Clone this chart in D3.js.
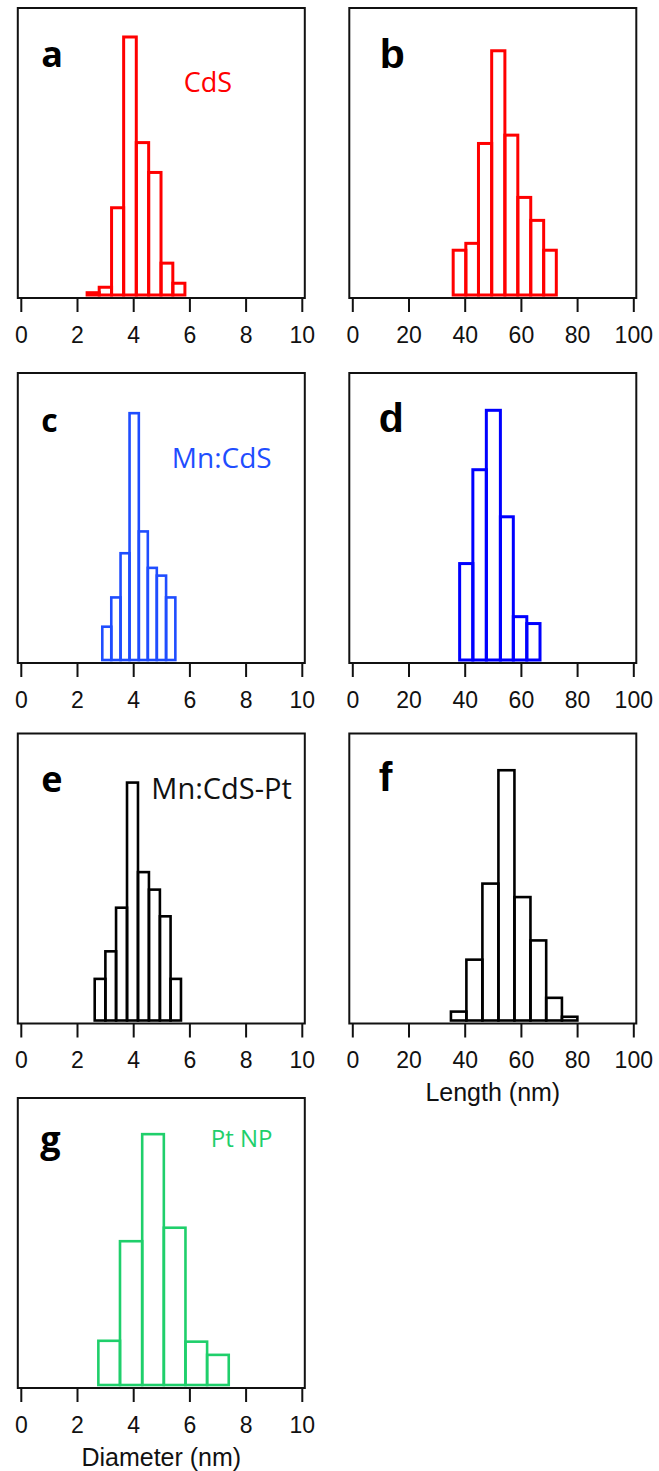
<!DOCTYPE html>
<html><head><meta charset="utf-8">
<script src="https://cdn.jsdelivr.net/npm/d3@7"></script>
<style>body{margin:0;background:#fff}svg{display:block}</style>
</head><body><svg id="chart" width="659" height="1471"></svg>
<script>
// ---- data (bin edges in nm, bar heights as relative frequency, % of axis height) ----
const diameterTicks = [0, 2, 4, 6, 8, 10];
const lengthTicks = [0, 20, 40, 60, 80, 100];

const aEdges = [2.36, 2.79, 3.23, 3.66, 4.11, 4.55, 4.99, 5.41, 5.84];
const aFreq  = [0.8, 2.7, 30.4, 89.9, 53.1, 42.7, 11.1, 4.1];

const bEdges = [35.9, 40.4, 44.9, 49.6, 54.3, 58.9, 63.5, 68.1, 72.6];
const bFreq  = [15.6, 18.0, 52.8, 85.1, 55.7, 34.0, 26.0, 15.6];

const cEdges = [2.90, 3.22, 3.55, 3.87, 4.20, 4.52, 4.84, 5.17, 5.50];
const cFreq  = [11.6, 21.8, 37.2, 86.0, 44.8, 32.1, 29.4, 21.8];

const dEdges = [38.2, 42.9, 47.7, 52.7, 57.3, 62.1, 66.8];
const dFreq  = [33.6, 66.3, 87.0, 49.9, 15.1, 12.7];

const eEdges = [2.63, 3.01, 3.39, 3.78, 4.17, 4.56, 4.95, 5.33, 5.70];
const eFreq  = [14.5, 24.1, 39.3, 82.9, 51.7, 45.6, 36.3, 14.5];

const fEdges = [35.1, 40.6, 46.3, 52.0, 57.7, 63.4, 69.0, 74.6, 80.1];
const fFreq  = [3.1, 21.2, 47.7, 87.2, 43.0, 27.9, 7.9, 1.3];

const gEdges = [2.76, 3.53, 4.32, 5.09, 5.86, 6.63, 7.40];
const gFreq  = [15.4, 50.1, 87.4, 54.8, 15.1, 10.5];

const panelLetters = ["a", "b", "c", "d", "e", "f", "g"];
const sampleNames = ["CdS", null, "Mn:CdS", null, "Mn:CdS-Pt", null, "Pt NP"];
const axisTitles = [null, null, null, null, null, "Length (nm)", "Diameter (nm)"];

// ---- layout / styles ----
const colX = [17.8, 349.3];
const rowY = [8, 373, 733.5, 1098];
const frameW = 287, frameH = 290, inset = 3;

const panels = [
  {edges: aEdges, freq: aFreq, ticks: diameterTicks, col: 0, row: 0, color: "#ff0000", sw: 3,
   letterFont: "'Open Sans'", letterSize: 36, letterDx: 23.5, letterDy: 58.7,
   name: {dx: 166, dy: 83.7, size: 27, color: "#ff0000"}},
  {edges: bEdges, freq: bFreq, ticks: lengthTicks, col: 1, row: 0, color: "#ff0000", sw: 3,
   letterFont: "'Liberation Sans', Arial", letterSize: 41, letterDx: 30.5, letterDy: 60.3},
  {edges: cEdges, freq: cFreq, ticks: diameterTicks, col: 0, row: 1, color: "#1f4dff", sw: 2.6,
   letterFont: "'Open Sans'", letterSize: 32, letterDx: 23.5, letterDy: 58.7,
   name: {dx: 154, dy: 95.3, size: 28, color: "#1f4dff"}},
  {edges: dEdges, freq: dFreq, ticks: lengthTicks, col: 1, row: 1, color: "#0000ff", sw: 3,
   letterFont: "'Liberation Sans', Arial", letterSize: 41, letterDx: 29.5, letterDy: 58.7},
  {edges: eEdges, freq: eFreq, ticks: diameterTicks, col: 0, row: 2, color: "#000000", sw: 2.6,
   letterFont: "'Open Sans'", letterSize: 36, letterDx: 23.5, letterDy: 58.2,
   name: {dx: 133.5, dy: 65.5, size: 29, color: "#111"}},
  {edges: fEdges, freq: fFreq, ticks: lengthTicks, col: 1, row: 2, color: "#000000", sw: 2.6,
   letterFont: "'Liberation Sans', Arial", letterSize: 41, letterDx: 29.5, letterDy: 57.5},
  {edges: gEdges, freq: gFreq, ticks: diameterTicks, col: 0, row: 3, color: "#1fcf6b", sw: 2.6,
   letterFont: "'Open Sans'", letterSize: 36, letterDx: 22.5, letterDy: 53.7,
   name: {dx: 193, dy: 48.7, size: 24, color: "#1fcf6b"}}
];

const svg = d3.select("#chart");
svg.append("rect").attr("width", 659).attr("height", 1471).attr("fill", "#fff");

panels.forEach((p, i) => {
  const x0 = colX[p.col], y0 = rowY[p.row];
  const g = svg.append("g").attr("transform", `translate(${x0},${y0})`);
  const xMax = p.ticks[p.ticks.length - 1];
  const x = d3.scaleLinear().domain([0, xMax]).range([inset, frameW - inset]);
  const y = d3.scaleLinear().domain([0, 100]).range([frameH - inset, 0]);

  // frame
  g.append("rect").attr("x", 0).attr("y", 0).attr("width", frameW).attr("height", frameH)
    .attr("fill", "none").attr("stroke", "#111").attr("stroke-width", 2);

  // bars
  const bins = p.freq.map((v, k) => ({x0: p.edges[k], x1: p.edges[k + 1], v}));
  g.selectAll("rect.bar").data(bins).join("rect").attr("class", "bar")
    .attr("x", d => x(d.x0)).attr("width", d => x(d.x1) - x(d.x0))
    .attr("y", d => y(d.v)).attr("height", d => y(0) - y(d.v))
    .attr("fill", "none").attr("stroke", p.color).attr("stroke-width", p.sw);

  // x axis
  const ax = g.append("g").attr("transform", `translate(0,${frameH})`)
    .call(d3.axisBottom(x).tickValues(p.ticks).tickFormat(d3.format("d")).tickSize(14).tickPadding(14.5));
  ax.select(".domain").remove();
  ax.selectAll(".tick line").attr("stroke", "#111").attr("stroke-width", 2);
  ax.selectAll(".tick text").attr("fill", "#111")
    .style("font-family", "'Liberation Sans', Arial, sans-serif").style("font-size", "23px");

  // panel letter
  g.append("text").attr("x", p.letterDx).attr("y", p.letterDy).text(panelLetters[i])
    .style("font-family", p.letterFont + ", sans-serif").style("font-weight", "bold")
    .style("font-size", p.letterSize + "px").attr("fill", "#000");

  // sample name
  if (p.name && sampleNames[i]) {
    g.append("text").attr("x", p.name.dx).attr("y", p.name.dy).text(sampleNames[i])
      .style("font-family", "'Open Sans', sans-serif").style("font-size", p.name.size + "px")
      .attr("fill", p.name.color);
  }

  // axis title
  if (axisTitles[i]) {
    g.append("text").attr("x", frameW / 2).attr("y", frameH + 77.7).attr("text-anchor", "middle")
      .text(axisTitles[i])
      .style("font-family", "'Liberation Sans', Arial, sans-serif").style("font-size", "25px")
      .attr("fill", "#111");
  }
});
</script></body></html>
